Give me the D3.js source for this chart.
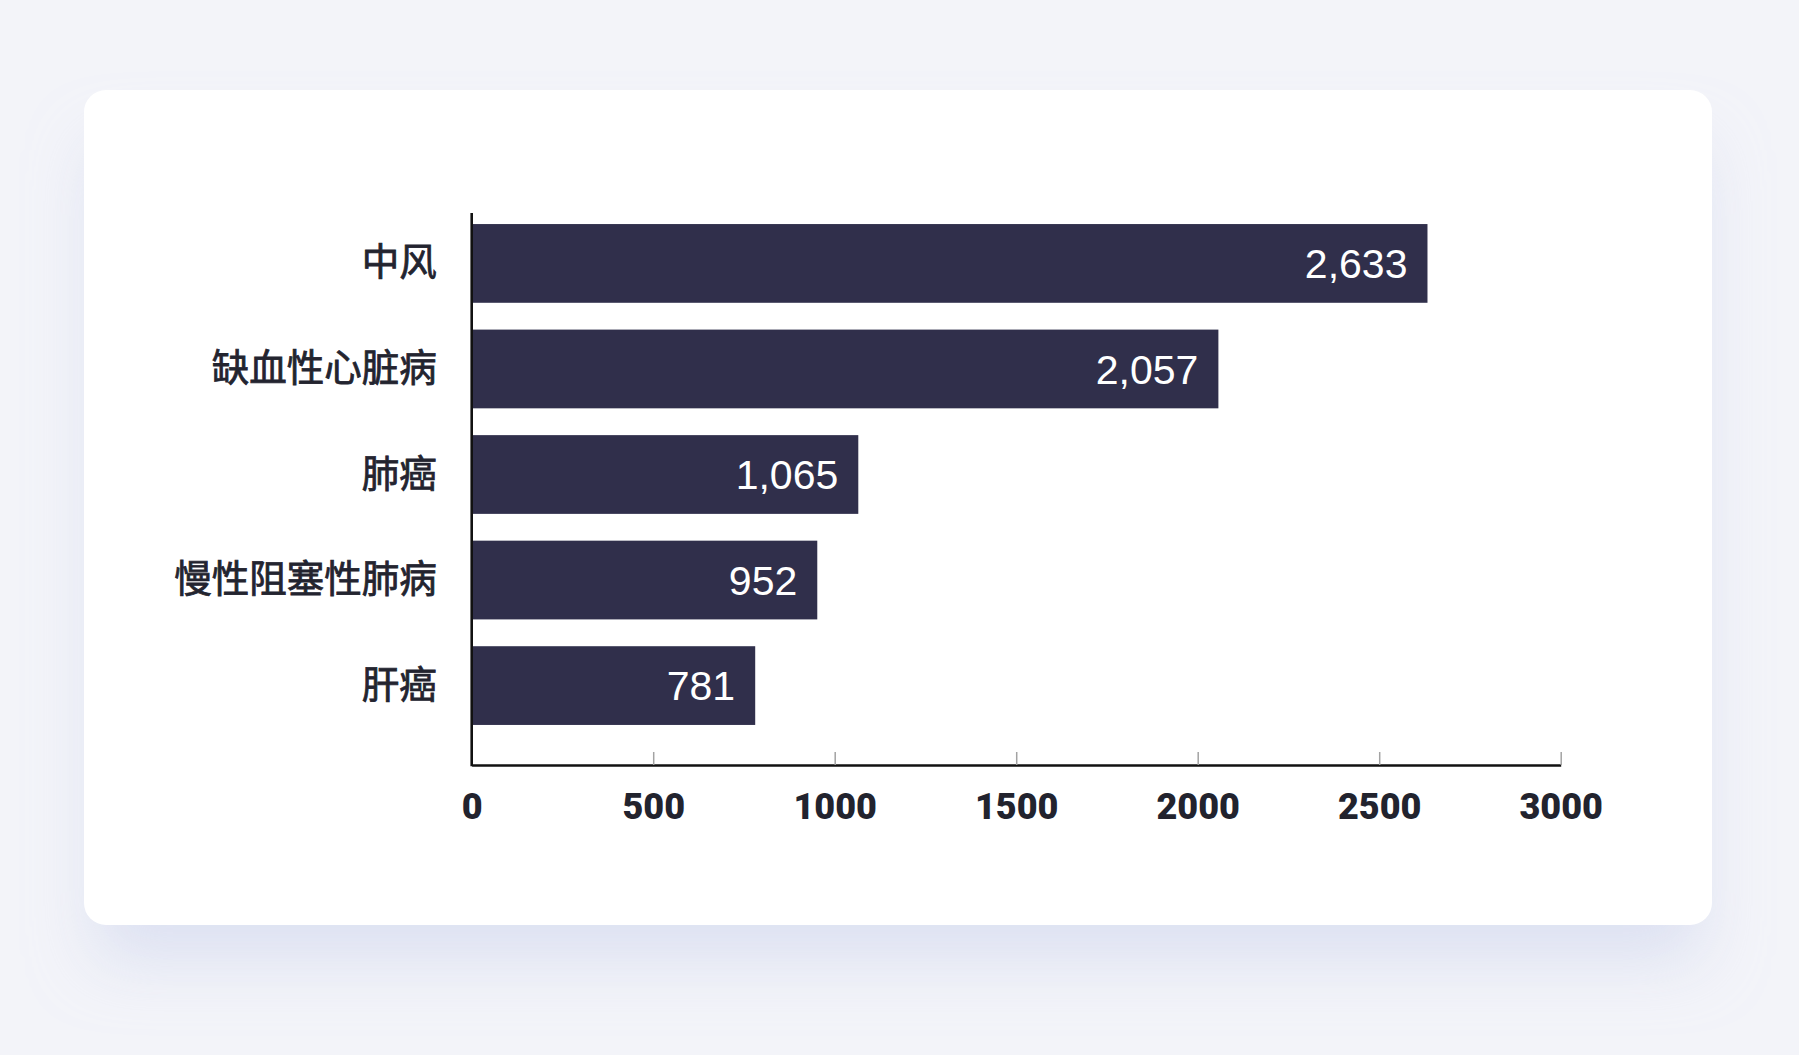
<!DOCTYPE html>
<html><head><meta charset="utf-8">
<script src="https://cdn.jsdelivr.net/npm/d3@7"></script>
<style>
html,body{margin:0;padding:0;background:#f3f4f9;}
body{width:1799px;height:1055px;position:relative;overflow:hidden;}
#card{position:absolute;left:84px;top:90px;width:1628px;height:835px;background:#fff;border-radius:22px;box-shadow:0 46px 64px -12px rgba(205,212,236,0.6);}
svg{position:absolute;left:0;top:0;}
</style></head><body><div id="card"></div><svg id="chart" width="1799" height="1055"></svg>
<script>
const categories = ["中风","缺血性心脏病","肺癌","慢性阻塞性肺病","肝癌"];
const values = [2633,2057,1065,952,781];
const xTicks = [0,500,1000,1500,2000,2500,3000];

const svg = d3.select("#chart");
const plotLeft = 471.7, plotRight = 1560.7, plotTop = 213, plotBottom = 765;

const x = d3.scaleLinear().domain([0,3000]).range([plotLeft,plotRight]);
const y = d3.scaleBand().domain(categories).range([213.5,735.5]).paddingInner(0.254).paddingOuter(0.1);

const data = categories.map((c,i)=>({c, v: values[i]}));

// bars
svg.append("g").selectAll("rect").data(data).join("rect")
  .attr("x", x(0)).attr("y", d=>y(d.c))
  .attr("width", d=>x(d.v)-x(0)).attr("height", y.bandwidth())
  .attr("fill", "#302f4b");

// value labels
svg.append("g").selectAll("text").data(data).join("text")
  .attr("x", d=>x(d.v)-20).attr("y", d=>y(d.c)+y.bandwidth()/2)
  .attr("dy","0.36em").attr("text-anchor","end")
  .attr("fill","#ffffff")
  .style("font-family","'Liberation Sans', Arial, sans-serif").style("font-size","41px")
  .text(d=>d3.format(",")(d.v));

// x axis
const gx = svg.append("g").attr("transform",`translate(0,${plotBottom})`)
  .call(d3.axisBottom(x).tickValues(xTicks).tickSize(-13).tickSizeOuter(0).tickFormat(d3.format("d")));
gx.select(".domain").attr("stroke","#111").attr("stroke-width",2.6);
gx.selectAll(".tick line").attr("stroke","#a3a3a3").attr("stroke-width",1.5)
  .filter(d=>d===0).remove();
gx.selectAll(".tick text").attr("y",54).attr("dy",0).attr("fill","#22232e")
  .style("font-family","Roboto, sans-serif").style("font-weight","900").style("font-size","36px");

// y axis line
svg.append("line").attr("x1",x(0)).attr("x2",x(0)).attr("y1",plotTop).attr("y2",plotBottom+1.3)
  .attr("stroke","#111").attr("stroke-width",2.6);

// y labels
const gy = svg.append("g").attr("transform",`translate(${x(0)},0)`)
  .call(d3.axisLeft(y).tickSize(0).tickPadding(35));
gy.select(".domain").remove();
gy.selectAll(".tick text").attr("fill","#23242f")
  .attr("stroke","#23242f").attr("stroke-width",0.8)
  .style("font-family","'Noto Sans CJK SC', sans-serif").style("font-weight","400").style("font-size","37.5px");
</script>
</body></html>
